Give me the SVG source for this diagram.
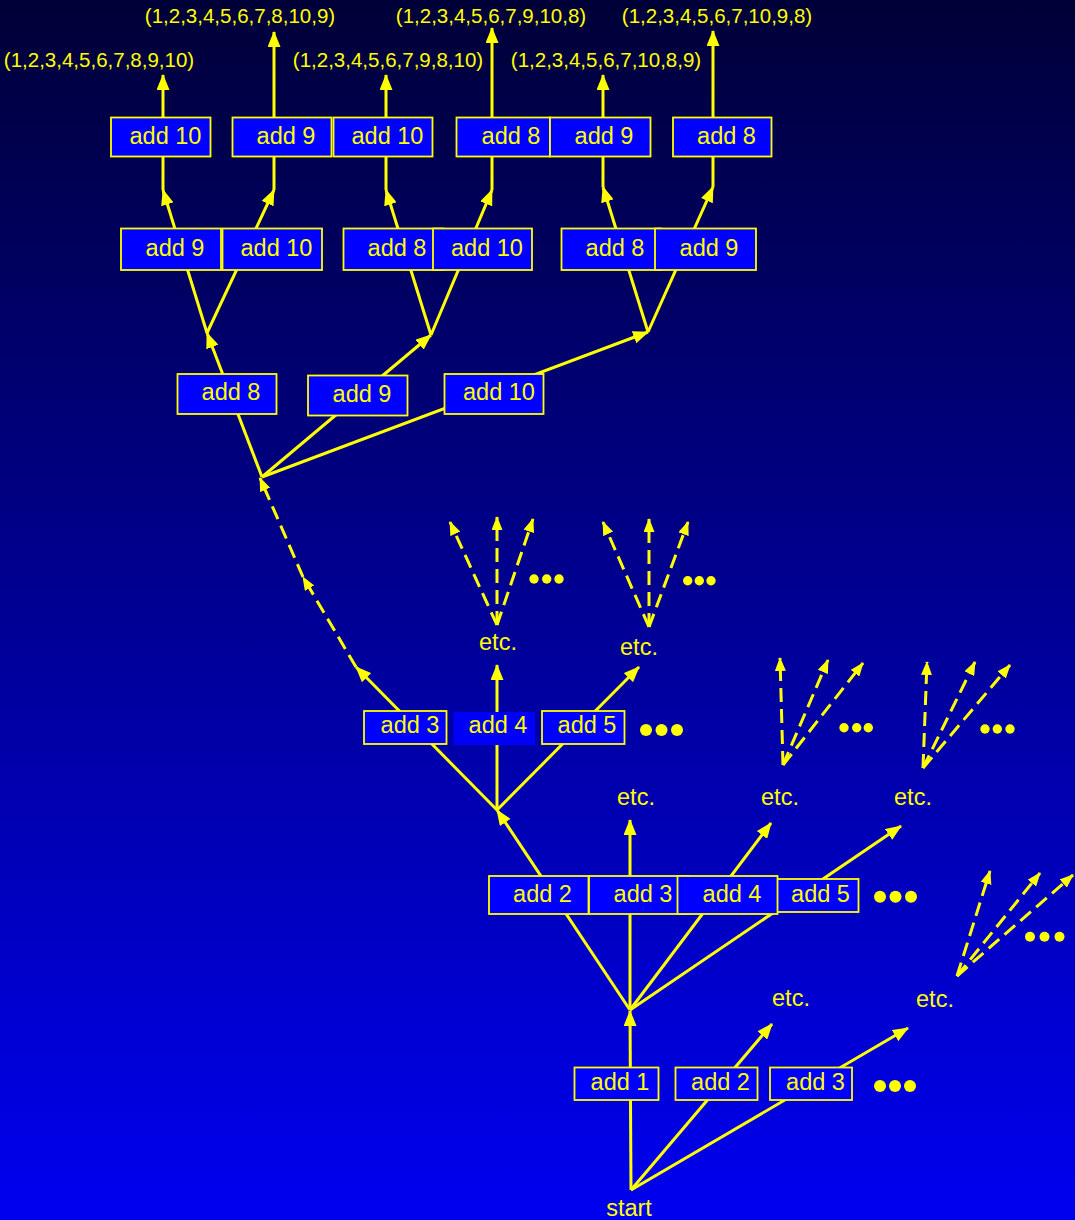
<svg xmlns="http://www.w3.org/2000/svg" width="1075" height="1220" viewBox="0 0 1075 1220">
  <defs>
    <linearGradient id="bg" x1="0" y1="0" x2="0" y2="1">
      <stop offset="0" stop-color="#000038"/>
      <stop offset="1" stop-color="#0000f0"/>
    </linearGradient>
    <marker id="ah" viewBox="0 0 16 13" markerWidth="16" markerHeight="13" refX="15" refY="6.5" orient="auto" markerUnits="userSpaceOnUse">
      <path d="M0,0 L16,6.5 L0,13 z" fill="#ffff00"/>
    </marker>
    <marker id="ahs" viewBox="0 0 14 11" markerWidth="14" markerHeight="11" refX="13" refY="5.5" orient="auto" markerUnits="userSpaceOnUse">
      <path d="M0,0 L14,5.5 L0,11 z" fill="#ffff00"/>
    </marker>
    <style>
      .edge { stroke: #ffff00; stroke-width: 3; fill: none; marker-end: url(#ah); }
      .dash { stroke: #ffff00; stroke-width: 3; fill: none; stroke-dasharray: 14 7; marker-end: url(#ahs); }
      .box { fill: #0000ff; stroke: #ffff00; stroke-width: 1.8; }
      .lbl { font-family: "Liberation Sans", Arial, sans-serif; font-size: 23.5px; fill: #ffff00; text-anchor: middle; }
      .seq { font-family: "Liberation Sans", Arial, sans-serif; font-size: 20.5px; fill: #ffff00; text-anchor: middle; }
      .dot { fill: #ffff00; }
    </style>
  </defs>

  <rect x="0" y="0" width="1075" height="1220" fill="url(#bg)"/>

  <!-- connectors -->
  <g id="connectors">
    <!-- from start -->
    <line class="edge" x1="631" y1="1190" x2="630" y2="1011"/>
    <line class="edge" x1="631" y1="1190" x2="772" y2="1024"/>
    <line class="edge" x1="631" y1="1190" x2="908" y2="1028"/>
    <!-- after add 1 -->
    <line class="edge" x1="630" y1="1010" x2="497" y2="810"/>
    <line class="edge" x1="630" y1="1010" x2="630" y2="820"/>
    <line class="edge" x1="630" y1="1010" x2="771" y2="823"/>
    <line class="edge" x1="630" y1="1010" x2="901" y2="826"/>
    <!-- after add 2 -->
    <line class="edge" x1="497" y1="810" x2="356" y2="667"/>
    <line class="edge" x1="497" y1="810" x2="497" y2="665"/>
    <line class="edge" x1="497" y1="810" x2="639" y2="667"/>
    <!-- elided levels -->
    <line class="dash" x1="356" y1="667" x2="303" y2="577"/>
    <line class="dash" x1="303" y1="577" x2="260" y2="478"/>
    <!-- after add 7 -->
    <line class="edge" x1="262" y1="477" x2="207" y2="333"/>
    <line class="edge" x1="262" y1="477" x2="431" y2="335"/>
    <line class="edge" x1="262" y1="477" x2="648" y2="332"/>
    <!-- second to last choice -->
    <line class="edge" x1="207" y1="333" x2="163" y2="190"/>
    <line class="edge" x1="207" y1="333" x2="274" y2="190"/>
    <line class="edge" x1="431" y1="335" x2="386" y2="190"/>
    <line class="edge" x1="431" y1="335" x2="492" y2="190"/>
    <line class="edge" x1="648" y1="332" x2="603" y2="187"/>
    <line class="edge" x1="648" y1="332" x2="713" y2="187"/>
    <!-- last choice -->
    <line class="edge" x1="163" y1="190" x2="163" y2="75"/>
    <line class="edge" x1="274" y1="190" x2="274" y2="32"/>
    <line class="edge" x1="386" y1="190" x2="386" y2="75"/>
    <line class="edge" x1="492" y1="190" x2="492" y2="28"/>
    <line class="edge" x1="603" y1="187" x2="603" y2="75"/>
    <line class="edge" x1="713" y1="187" x2="713" y2="31"/>
    <!-- dashed fans -->
    <line class="dash" x1="497" y1="625" x2="450" y2="522"/>
    <line class="dash" x1="497" y1="625" x2="497" y2="517"/>
    <line class="dash" x1="497" y1="625" x2="533" y2="519"/>
    <line class="dash" x1="649" y1="627" x2="603" y2="522"/>
    <line class="dash" x1="649" y1="627" x2="649" y2="519"/>
    <line class="dash" x1="649" y1="627" x2="688" y2="522"/>
    <line class="dash" x1="783" y1="765" x2="780" y2="658"/>
    <line class="dash" x1="783" y1="765" x2="828" y2="660"/>
    <line class="dash" x1="783" y1="765" x2="863" y2="663"/>
    <line class="dash" x1="923" y1="768" x2="927" y2="662"/>
    <line class="dash" x1="923" y1="768" x2="975" y2="662"/>
    <line class="dash" x1="923" y1="768" x2="1010" y2="665"/>
    <line class="dash" x1="957" y1="976" x2="990" y2="871"/>
    <line class="dash" x1="957" y1="976" x2="1040" y2="873"/>
    <line class="dash" x1="957" y1="976" x2="1073" y2="875"/>
  </g>

  <!-- level 1 -->
  <g id="l1-add1"><rect class="box" x="574.5" y="1067.5" width="84" height="32.5"/><text class="lbl" x="620" y="1090">add 1</text></g>
  <g id="l1-add2"><rect class="box" x="675.5" y="1067.5" width="82" height="32.5"/><text class="lbl" x="720.5" y="1090">add 2</text></g>
  <g id="l1-add3"><rect class="box" x="770" y="1067.5" width="82" height="32.5"/><text class="lbl" x="815.5" y="1090">add 3</text></g>

  <!-- level 2 -->
  <g id="l2-add2"><rect class="box" x="489" y="876" width="99.5" height="38"/><text class="lbl" x="542.5" y="902">add 2</text></g>
  <g id="l2-add3"><rect class="box" x="589" y="876" width="100" height="38"/><text class="lbl" x="643" y="902">add 3</text></g>
  <g id="l2-add5"><rect class="box" x="776" y="879" width="82.5" height="33"/><text class="lbl" x="820.5" y="902">add 5</text></g>
  <g id="l2-add4"><rect class="box" x="677.5" y="876" width="100" height="38"/><text class="lbl" x="732" y="902">add 4</text></g>

  <!-- level 3 -->
  <g id="l3-add3"><rect class="box" x="364" y="711" width="82.5" height="33"/><text class="lbl" x="410" y="733">add 3</text></g>
  <g id="l3-add4"><rect x="453.5" y="712" width="81.5" height="33" fill="#0000f8"/><text class="lbl" x="498" y="733">add 4</text></g>
  <g id="l3-add5"><rect class="box" x="542" y="711" width="82.5" height="33"/><text class="lbl" x="587" y="733">add 5</text></g>

  <!-- level 8 -->
  <g id="l8-add8"><rect class="box" x="177.5" y="374" width="99" height="40"/><text class="lbl" x="231" y="399.5">add 8</text></g>
  <g id="l8-add9"><rect class="box" x="308" y="375.5" width="99.5" height="40"/><text class="lbl" x="362" y="401.5">add 9</text></g>
  <g id="l8-add10"><rect class="box" x="444.5" y="374" width="99" height="40"/><text class="lbl" x="499" y="399.5">add 10</text></g>

  <!-- level 9 -->
  <g id="l9-add9-a"><rect class="box" x="121" y="228.5" width="100" height="41.5"/><text class="lbl" x="175" y="256">add 9</text></g>
  <g id="l9-add10-a"><rect class="box" x="222.5" y="228.5" width="99.5" height="41.5"/><text class="lbl" x="276.5" y="256">add 10</text></g>
  <g id="l9-add8-b"><rect class="box" x="343.5" y="228.5" width="100" height="41.5"/><text class="lbl" x="397" y="256">add 8</text></g>
  <g id="l9-add10-b"><rect class="box" x="433" y="228.5" width="99" height="41.5"/><text class="lbl" x="487" y="256">add 10</text></g>
  <g id="l9-add8-c"><rect class="box" x="561.5" y="228.5" width="99.5" height="41.5"/><text class="lbl" x="615" y="256">add 8</text></g>
  <g id="l9-add9-c"><rect class="box" x="655" y="228.5" width="101" height="41.5"/><text class="lbl" x="709" y="256">add 9</text></g>

  <!-- level 10 -->
  <g id="l10-add10-a"><rect class="box" x="111" y="117.5" width="99.5" height="39"/><text class="lbl" x="165.5" y="144">add 10</text></g>
  <g id="l10-add9-a"><rect class="box" x="232.5" y="117.5" width="99" height="39"/><text class="lbl" x="286" y="144">add 9</text></g>
  <g id="l10-add10-b"><rect class="box" x="333.5" y="117.5" width="99" height="39"/><text class="lbl" x="387.5" y="144">add 10</text></g>
  <g id="l10-add8-b"><rect class="box" x="456.5" y="117.5" width="93.5" height="39"/><text class="lbl" x="511" y="144">add 8</text></g>
  <g id="l10-add9-c"><rect class="box" x="550" y="117.5" width="100.5" height="39"/><text class="lbl" x="604" y="144">add 9</text></g>
  <g id="l10-add8-c"><rect class="box" x="673" y="117.5" width="98.5" height="39"/><text class="lbl" x="726.5" y="144">add 8</text></g>

  <!-- resulting orders -->
  <g id="results">
    <text class="seq" x="99" y="66.5">(1,2,3,4,5,6,7,8,9,10)</text>
    <text class="seq" x="240" y="23">(1,2,3,4,5,6,7,8,10,9)</text>
    <text class="seq" x="388" y="66.5">(1,2,3,4,5,6,7,9,8,10)</text>
    <text class="seq" x="491" y="23">(1,2,3,4,5,6,7,9,10,8)</text>
    <text class="seq" x="606" y="66.5">(1,2,3,4,5,6,7,10,8,9)</text>
    <text class="seq" x="717" y="23">(1,2,3,4,5,6,7,10,9,8)</text>
  </g>

  <!-- start and continuation labels -->
  <g id="start"><text class="lbl" x="629" y="1216">start</text></g>
  <g id="etc-labels">
    <text class="lbl" x="498" y="650">etc.</text>
    <text class="lbl" x="639" y="655">etc.</text>
    <text class="lbl" x="636" y="805">etc.</text>
    <text class="lbl" x="780" y="805">etc.</text>
    <text class="lbl" x="913" y="805">etc.</text>
    <text class="lbl" x="791" y="1006">etc.</text>
    <text class="lbl" x="935" y="1007">etc.</text>
  </g>

  <!-- ellipsis dots -->
  <g id="ellipses">
    <circle class="dot" cx="534" cy="579" r="4.7"/><circle class="dot" cx="546.7" cy="579" r="4.7"/><circle class="dot" cx="559" cy="579" r="4.7"/>
    <circle class="dot" cx="687.7" cy="580.7" r="4.7"/><circle class="dot" cx="699.3" cy="580.7" r="4.7"/><circle class="dot" cx="711" cy="580.7" r="4.7"/>
    <circle class="dot" cx="646" cy="730" r="6"/><circle class="dot" cx="661.5" cy="730" r="6"/><circle class="dot" cx="677" cy="730" r="6"/>
    <circle class="dot" cx="844" cy="727.7" r="4.7"/><circle class="dot" cx="856.7" cy="727.7" r="4.7"/><circle class="dot" cx="868.3" cy="727.7" r="4.7"/>
    <circle class="dot" cx="985" cy="729" r="4.7"/><circle class="dot" cx="997.3" cy="729" r="4.7"/><circle class="dot" cx="1010" cy="729" r="4.7"/>
    <circle class="dot" cx="880" cy="896.7" r="6"/><circle class="dot" cx="895.5" cy="896.7" r="6"/><circle class="dot" cx="911" cy="896.7" r="6"/>
    <circle class="dot" cx="1030" cy="936.7" r="5"/><circle class="dot" cx="1044.5" cy="936.7" r="5"/><circle class="dot" cx="1059.5" cy="936.7" r="5"/>
    <circle class="dot" cx="880" cy="1086" r="6"/><circle class="dot" cx="895" cy="1086" r="6"/><circle class="dot" cx="910" cy="1086" r="6"/>
  </g>
</svg>
